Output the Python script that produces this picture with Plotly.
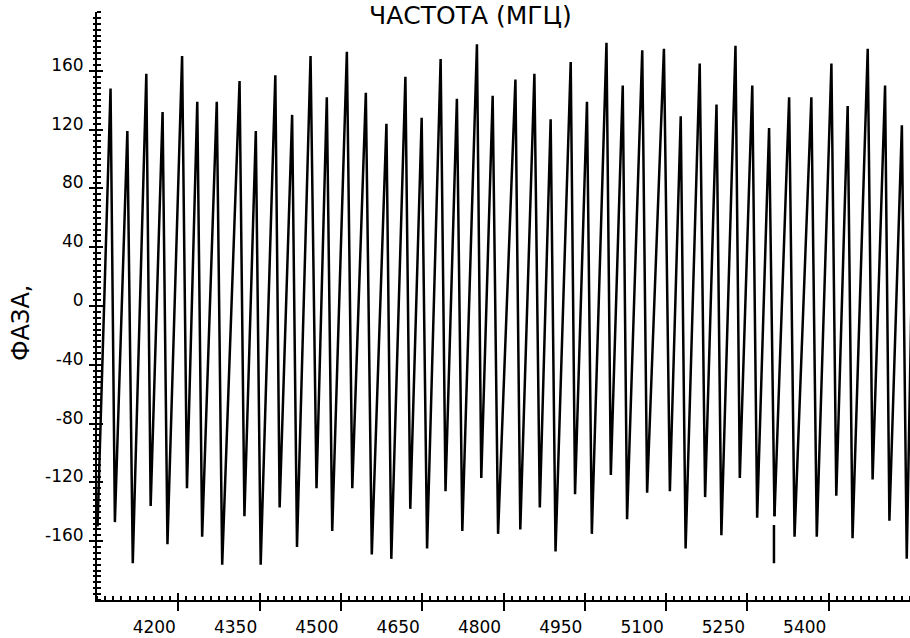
import plotly.graph_objects as go

# Frequency (MHz) and phase (degrees).
# None marks the pen-lift gap near 5300 MHz.
freq_mhz = [
    4051, 4075, 4083, 4106, 4116, 4141, 4149, 4171, 4180, 4207,
    4216, 4235, 4244, 4271, 4281, 4313, 4322, 4343, 4352, 4379,
    4387, 4410, 4419, 4444, 4455, 4474, 4484, 4511, 4521, 4546,
    4557, 4584, 4593, 4619, 4628, 4649, 4659, 4684, 4693, 4714,
    4724, 4751, 4759, 4780, 4790, 4822, 4831, 4857, 4867, 4887,
    4896, 4924, 4932, 4954, 4963, 4990, 4998, 5020, 5028, 5056,
    5065, 5096, 5107, 5127, 5136, 5162, 5172, 5193, 5202, 5228,
    5236, 5259, 5268, 5290, 5300, None, 5299, 5299, None, 5300,
    5327, 5337, 5368, 5378, 5405, 5414, 5435, 5444, 5472, 5481,
    5504, 5512, 5535, 5544, 5553,
]
phase_deg = [
    -150, 148, -147, 119, -175, 158, -136, 132, -162, 170,
    -124, 139, -157, 139, -176, 153, -143, 119, -176, 157,
    -137, 130, -164, 170, -124, 142, -153, 173, -124, 145,
    -169, 124, -172, 156, -138, 128, -165, 168, -126, 141,
    -153, 178, -117, 143, -155, 154, -152, 158, -137, 127,
    -167, 166, -128, 139, -155, 179, -115, 150, -145, 174,
    -127, 175, -126, 129, -165, 165, -130, 137, -156, 177,
    -117, 150, -144, 121, -143, None, -149, -175, None, -143,
    142, -157, 142, -157, 165, -129, 136, -158, 175, -118,
    150, -146, 123, -172, 10,
]

x_tick_vals = [4200, 4350, 4500, 4650, 4800, 4950, 5100, 5250, 5400]
x_tick_text = ["4200", "4350", "4500", "4650", "4800", "4950", "5100", "5250", "5400"]
y_tick_vals = [-160, -120, -80, -40, 0, 40, 80, 120, 160]
y_tick_text = ["-160", "-120", "-80", "-40", "0", "40", "80", "120", "160"]

x_range = [4050, 5550]
y_range = [-200, 200]
x_minor_step = 15
y_minor_step = 4

title_text = "ЧАСТОТА (МГЦ)"
y_title_text = "ФАЗА,"

FONT = "DejaVu Sans, sans-serif"

fig = go.Figure()
fig.add_trace(go.Scatter(
    x=freq_mhz, y=phase_deg, mode="lines",
    line=dict(color="black", width=2.5),
    connectgaps=False, showlegend=False, hoverinfo="skip",
))
# empty trace to activate the overlay axes (crossing major ticks)
fig.add_trace(go.Scatter(x=[None], y=[None], xaxis="x2", yaxis="y2",
                         showlegend=False, hoverinfo="skip"))

tick_font = dict(family=FONT, size=17, color="black")

fig.update_layout(
    width=910, height=638,
    margin=dict(l=97, r=0, t=12, b=38, autoexpand=False),
    paper_bgcolor="white", plot_bgcolor="white",
    xaxis=dict(
        range=x_range, tickmode="array", tickvals=x_tick_vals, ticktext=x_tick_text,
        showgrid=False, zeroline=False,
        showline=True, linecolor="black", linewidth=2,
        ticks="outside", ticklen=9, tickwidth=2, tickcolor="black",
        minor=dict(ticks="inside", ticklen=4, tickwidth=1.5, tickcolor="black",
                   tickmode="linear", tick0=4050, dtick=x_minor_step, showgrid=False),
        tickfont=tick_font, ticklabelshift=-24, ticklabelstandoff=2,
    ),
    yaxis=dict(
        range=y_range, tickmode="array", tickvals=y_tick_vals, ticktext=y_tick_text,
        showgrid=False, zeroline=False,
        showline=True, linecolor="black", linewidth=2,
        ticks="outside", ticklen=6, tickwidth=2, tickcolor="black",
        minor=dict(ticks="inside", ticklen=4, tickwidth=1.5, tickcolor="black",
                   tickmode="linear", tick0=0, dtick=y_minor_step, showgrid=False),
        tickfont=tick_font, ticklabelshift=-6, ticklabelstandoff=2,
    ),
    xaxis2=dict(
        overlaying="x", anchor="y2", side="bottom", range=x_range,
        tickmode="array", tickvals=x_tick_vals,
        showticklabels=False, showgrid=False, zeroline=False, showline=False,
        ticks="inside", ticklen=7, tickwidth=2, tickcolor="black",
    ),
    yaxis2=dict(
        overlaying="y", anchor="x2", side="left", range=y_range,
        tickmode="array", tickvals=y_tick_vals,
        showticklabels=False, showgrid=False, zeroline=False, showline=False,
        ticks="inside", ticklen=6, tickwidth=2, tickcolor="black",
        minor=dict(ticks="outside", ticklen=3, tickwidth=1.5, tickcolor="black",
                   tickmode="linear", tick0=0, dtick=y_minor_step, showgrid=False),
    ),
    annotations=[
        dict(text=title_text, xref="paper", yref="paper", x=0.4588, y=1.0,
             xanchor="center", yanchor="bottom", yshift=-20, showarrow=False,
             font=dict(family=FONT, size=25, color="black")),
        dict(text=y_title_text, xref="paper", yref="paper", x=0.0, y=0.471,
             xanchor="center", yanchor="middle", xshift=-76, textangle=-90,
             showarrow=False, font=dict(family=FONT, size=24, color="black")),
    ],
)

fig.write_html("out.html", config={"displayModeBar": False},
               post_script="document.body.style.margin='0px';")
